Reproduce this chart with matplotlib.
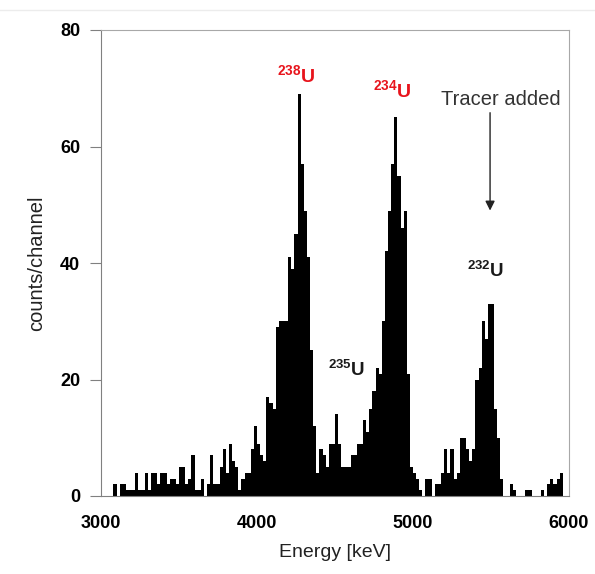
import matplotlib
matplotlib.use("Agg")
import matplotlib.pyplot as plt
from matplotlib.lines import Line2D
import numpy as np

plt.rcParams['font.family'] = ['Liberation Sans', 'DejaVu Sans']
plt.rcParams['mathtext.fontset'] = 'custom'
plt.rcParams['mathtext.rm'] = 'Liberation Sans'
plt.rcParams['mathtext.bf'] = 'Liberation Sans:bold'

# Channel data (20 keV channels starting at 3000 keV)
channel_start = 3000
channel_width = 20
counts = [
    0, 0, 0, 0, 2, 0, 2, 2, 1, 1,
    1, 4, 1, 1, 4, 1, 4, 4, 2, 4,
    4, 2, 3, 3, 2, 5, 5, 2, 3, 7,
    1, 1, 3, 0, 2, 7, 2, 2, 5, 8,
    4, 9, 6, 5, 1, 3, 4, 4, 8, 12,
    9, 7, 6, 17, 16, 15, 29, 30, 30, 30,
    41, 39, 45, 69, 57, 49, 41, 25, 12, 4,
    8, 7, 5, 9, 9, 14, 9, 5, 5, 5,
    7, 7, 9, 9, 13, 11, 15, 18, 22, 21,
    30, 42, 49, 57, 65, 55, 46, 49, 21, 5,
    4, 3, 1, 0, 3, 3, 0, 2, 2, 4,
    8, 4, 8, 3, 4, 10, 10, 8, 6, 8,
    20, 22, 30, 27, 33, 33, 15, 10, 3, 0,
    0, 2, 1, 0, 0, 0, 1, 1, 0, 0,
    0, 1, 0, 2, 3, 2, 3, 4, 0, 0,
]
x_ticks = [3000, 4000, 5000, 6000]
y_ticks = [0, 20, 40, 60, 80]

centers = channel_start + channel_width * (np.arange(len(counts)) + 0.5)

fig = plt.figure(figsize=(5.95, 5.74), dpi=100)
ax = fig.add_axes([101/595, 1 - 496/574, (569-101)/595, (496-30)/574])

ax.bar(centers, counts, width=channel_width, color='black', linewidth=0, align='center')

ax.set_xlim(3000, 6000)
ax.set_ylim(0, 80)
ax.set_xticks(x_ticks)
ax.set_yticks(y_ticks)
ax.tick_params(axis='x', length=0, pad=14, labelsize=13)
ax.tick_params(axis='y', length=8, direction='out', color='#808080', pad=7, labelsize=13)
for lab in ax.get_xticklabels() + ax.get_yticklabels():
    lab.set_fontweight('bold')

for s in ['left', 'bottom']:
    ax.spines[s].set_color('#808080')
for s in ['top', 'right']:
    ax.spines[s].set_color('#a8a8a8')

ax.set_xlabel('Energy [keV]', fontsize=14, color='#222222', labelpad=8)
ax.set_ylabel('counts/channel', fontsize=14.5, color='#222222', labelpad=10)

red = '#e8141c'
ax.text(4250, 72.3, r'$\mathbf{^{238}U}$', color=red, fontsize=14, ha='center', va='center')
ax.text(4865, 69.7, r'$\mathbf{^{234}U}$', color=red, fontsize=14, ha='center', va='center')
ax.text(5462, 38.6, r'$\mathbf{^{232}U}$', color='#1a1a1a', fontsize=13.5, ha='center', va='center')
ax.text(4571, 21.6, r'$\mathbf{^{235}U}$', color='#1a1a1a', fontsize=13.5, ha='center', va='center')
ax.text(5564, 68.0, 'Tracer added', color='#333333', fontsize=14.5, ha='center', va='center')
ax.annotate('', xy=(5494, 49.0), xytext=(5494, 65.8),
            arrowprops=dict(arrowstyle='-|>', color='#222222', lw=1.0, mutation_scale=14,
                            shrinkA=0, shrinkB=0))

fig.add_artist(Line2D([0, 1], [1 - 10/574, 1 - 10/574], transform=fig.transFigure,
                      color='#ececec', lw=1))

fig.savefig('out.png', dpi=100)
